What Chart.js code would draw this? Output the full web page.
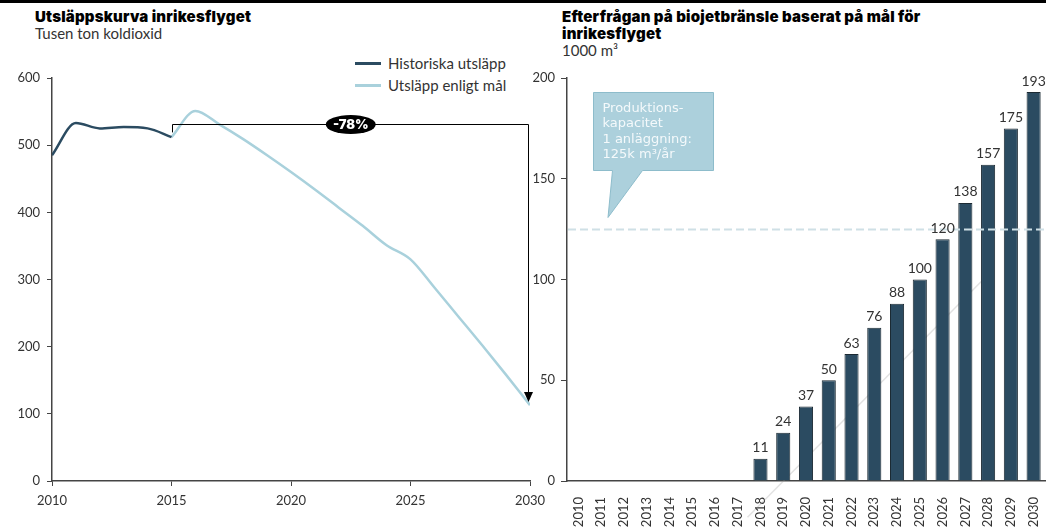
<!DOCTYPE html>
<html>
<head>
<meta charset="utf-8">
<script src="https://cdn.jsdelivr.net/npm/chart.js@4.4.1/dist/chart.umd.min.js"></script>
<style>
  body { margin: 0; background: #fff; width: 1046px; height: 527px; position: relative; overflow: hidden; font-family: Lato, 'Liberation Sans', sans-serif; color: #333; }
  .topbar { position: absolute; left: 0; top: 0; width: 1046px; height: 3px; background: #000; }
  .head { position: absolute; top: 8px; }
  .title { font-family: Inter, 'Liberation Sans', sans-serif; font-weight: 900; font-size: 15px; line-height: 17px; letter-spacing: 0.2px; color: #000; }
  .sub { font-family: Lato, sans-serif; font-size: 15px; line-height: 17px; color: #333; }
  canvas { position: absolute; }
  .legend { position: absolute; left: 355px; top: 52px; font-size: 15px; color: #333; }
  .legend div { height: 22px; display: flex; align-items: center; }
  .legend .sw { display: inline-block; width: 26px; height: 3px; margin-right: 7px; }
</style>
</head>
<body>
<div class="topbar"></div>
<div class="head" style="left:35px">
  <div class="title">Utsläppskurva inrikesflyget</div>
  <div class="sub">Tusen ton koldioxid</div>
</div>
<div class="head" style="left:562px">
  <div class="title">Efterfrågan på biojetbränsle baserat på mål för<br>inrikesflyget</div>
  <div class="sub">1000 m³</div>
</div>
<div class="legend">
  <div><span class="sw" style="background:#2b4b61"></span>Historiska utsläpp</div>
  <div><span class="sw" style="background:#a9d1dc"></span>Utsläpp enligt mål</div>
</div>
<canvas id="emissions" width="565" height="472" style="left:0;top:55px"></canvas>
<canvas id="biofuel" width="536" height="472" style="left:530px;top:55px"></canvas>

<script>
// Emissions from domestic aviation, thousand tonnes CO2
const histYears = [2010, 2011, 2012, 2013, 2014, 2015];
const histValues = [485, 533, 525, 527, 525, 512];
const targetYears = [2015, 2016, 2017, 2018, 2019, 2020, 2021, 2022, 2023, 2024, 2025, 2026, 2027, 2028, 2029, 2030];
const targetValues = [512, 551, 531, 509, 485, 460, 434, 407, 380, 351, 330, 288, 245, 202, 158, 113];
const emissionTicks = { xMin: 2010, xMax: 2030, xStep: 5, yMin: 0, yMax: 600, yStep: 100 };
const reductionLabel = '-78%';
const bracketLevel = 531;
const bracketFoot = 519;

// Biojet fuel demand, 1000 m3
const bioYears = ['2010', '2011', '2012', '2013', '2014', '2015', '2016', '2017', '2018', '2019', '2020',
                  '2021', '2022', '2023', '2024', '2025', '2026', '2027', '2028', '2029', '2030'];
const bioDemand = [null, null, null, null, null, null, null, null, 11, 24, 37, 50, 63, 76, 88, 100, 120, 138, 157, 175, 193];
const bioTicks = { yMin: 0, yMax: 200, yStep: 50 };
const capacity = 125;
const capacityNote = ['Produktions-', 'kapacitet', '1 anläggning:', '125k m³/år'];
// faint guide stroke behind the bars (category index, value)
const faintLineX = [7.43, 17.7];
const faintLineY = [-18, 99];

const DARK = '#2b4b61';
const LIGHT = '#a9d1dc';
const AXIS = '#444';
Chart.defaults.font.family = 'Lato, sans-serif';
Chart.defaults.font.size = 13;
Chart.defaults.color = '#333';

const toPoints = (xs, ys) => xs.map((x, i) => ({ x, y: ys[i] }));

// Bracket and arrow showing the reduction from 2015 to 2030
const reductionPlugin = {
  id: 'reduction',
  afterDatasetsDraw(chart) {
    const { ctx, scales: { x, y } } = chart;
    const x0 = Math.round(x.getPixelForValue(targetYears[0])) + 0.5;
    const x1 = Math.round(x.getPixelForValue(targetYears[targetYears.length - 1])) - 1.5;
    const yTop = Math.round(y.getPixelForValue(bracketLevel)) + 0.5;
    const yFoot = y.getPixelForValue(bracketFoot);
    const yTip = y.getPixelForValue(targetValues[targetValues.length - 1]) - 3;
    ctx.save();
    ctx.strokeStyle = '#000';
    ctx.fillStyle = '#000';
    ctx.lineWidth = 1;
    ctx.beginPath();
    ctx.moveTo(x0, yFoot);
    ctx.lineTo(x0, yTop);
    ctx.lineTo(x1, yTop);
    ctx.lineTo(x1, yTip - 9);
    ctx.stroke();
    ctx.beginPath();
    ctx.moveTo(x1 - 4.5, yTip - 10);
    ctx.lineTo(x1 + 4.5, yTip - 10);
    ctx.lineTo(x1, yTip);
    ctx.closePath();
    ctx.fill();
    const cx = x.getPixelForValue((targetYears[0] + targetYears[targetYears.length - 1]) / 2);
    ctx.beginPath();
    ctx.ellipse(cx, yTop, 25, 9.5, 0, 0, Math.PI * 2);
    ctx.fill();
    ctx.fillStyle = '#fff';
    ctx.font = '900 13px Inter, sans-serif';
    ctx.textAlign = 'center';
    ctx.textBaseline = 'middle';
    ctx.fillText(reductionLabel, cx, yTop + 0.5);
    ctx.restore();
  }
};

new Chart(document.getElementById('emissions'), {
  type: 'line',
  data: {
    datasets: [
      { label: 'Historiska utsläpp', data: toPoints(histYears, histValues), borderColor: DARK, borderWidth: 2.5,
        pointRadius: 0, cubicInterpolationMode: 'monotone', order: 1 },
      { label: 'Utsläpp enligt mål', data: toPoints(targetYears, targetValues), borderColor: LIGHT, borderWidth: 2.5,
        pointRadius: 0, cubicInterpolationMode: 'monotone', order: 2 }
    ]
  },
  options: {
    responsive: false,
    devicePixelRatio: 1,
    animation: false,
    events: [],
    layout: { padding: { top: 23, right: 35, left: 0, bottom: 0 } },
    plugins: { legend: { display: false }, tooltip: { enabled: false } },
    scales: {
      x: {
        type: 'linear', min: emissionTicks.xMin, max: emissionTicks.xMax,
        ticks: { stepSize: emissionTicks.xStep, padding: 7, callback: v => String(v) },
        grid: { drawOnChartArea: false, tickLength: 5, color: AXIS },
        border: { color: AXIS, width: 1.5 },
        afterFit(s) { s.height = 46; }
      },
      y: {
        min: emissionTicks.yMin, max: emissionTicks.yMax,
        ticks: { stepSize: emissionTicks.yStep, padding: 7 },
        grid: { drawOnChartArea: false, tickLength: 5, color: AXIS },
        border: { color: AXIS, width: 1.5 },
        afterFit(s) { s.width = 52; }
      }
    }
  },
  plugins: [reductionPlugin]
});

// Faint diagonal stroke drawn beneath the bars
const faintLinePlugin = {
  id: 'faintLine',
  beforeDatasetsDraw(chart) {
    const { ctx, scales: { x, y } } = chart;
    ctx.save();
    ctx.strokeStyle = 'rgba(150,150,150,0.28)';
    ctx.lineWidth = 1.5;
    ctx.beginPath();
    ctx.moveTo(x.getPixelForValue(faintLineX[0]), y.getPixelForValue(faintLineY[0]));
    ctx.lineTo(x.getPixelForValue(faintLineX[1]), y.getPixelForValue(faintLineY[1]));
    ctx.stroke();
    ctx.restore();
  }
};

// Value labels above the bars
const barLabelPlugin = {
  id: 'barLabels',
  afterDatasetsDraw(chart) {
    const { ctx } = chart;
    const meta = chart.getDatasetMeta(0);
    ctx.save();
    ctx.fillStyle = '#333';
    ctx.font = '14px Lato, sans-serif';
    ctx.textAlign = 'center';
    ctx.textBaseline = 'bottom';
    meta.data.forEach((bar, i) => {
      const v = bioDemand[i];
      if (v == null) return;
      ctx.fillText(String(v), bar.x, bar.y - 4);
    });
    ctx.restore();
  }
};

// Capacity line and its callout
const capacityPlugin = {
  id: 'capacity',
  afterDatasetsDraw(chart) {
    const { ctx, chartArea: a, scales: { y } } = chart;
    const yc = Math.round(y.getPixelForValue(capacity)) + 0.5;
    ctx.save();
    ctx.strokeStyle = '#cfe0e6';
    ctx.lineWidth = 2;
    ctx.setLineDash([8, 4]);
    ctx.beginPath();
    ctx.moveTo(a.left + 1, yc);
    ctx.lineTo(a.right, yc);
    ctx.stroke();
    ctx.setLineDash([]);

    const bx = a.left + 26.5, by = a.top + 14.5, bw = 120, bh = 78;
    const tipX = a.left + 41, tipY = yc - 12;
    ctx.fillStyle = '#acd0dc';
    ctx.strokeStyle = '#8dbccb';
    ctx.lineWidth = 1;
    ctx.beginPath();
    ctx.moveTo(bx, by);
    ctx.lineTo(bx + bw, by);
    ctx.lineTo(bx + bw, by + bh);
    ctx.lineTo(bx + 49, by + bh);
    ctx.lineTo(tipX, tipY);
    ctx.lineTo(bx + 19, by + bh);
    ctx.lineTo(bx, by + bh);
    ctx.closePath();
    ctx.fill();
    ctx.stroke();

    ctx.fillStyle = '#f4f9fb';
    ctx.font = '13px "DejaVu Sans", sans-serif';
    ctx.textAlign = 'left';
    ctx.textBaseline = 'middle';
    capacityNote.forEach((line, i) => ctx.fillText(line, bx + 9, by + 16 + i * 15.5));
    ctx.restore();
  }
};

new Chart(document.getElementById('biofuel'), {
  type: 'bar',
  data: {
    labels: bioYears,
    datasets: [
      { data: bioDemand, backgroundColor: DARK, borderColor: '#1c2a33', borderWidth: 1,
        barPercentage: 0.62, categoryPercentage: 1 }
    ]
  },
  options: {
    responsive: false,
    devicePixelRatio: 1,
    animation: false,
    events: [],
    layout: { padding: { top: 23, right: 21, left: 0, bottom: 0 } },
    plugins: { legend: { display: false }, tooltip: { enabled: false } },
    scales: {
      x: {
        type: 'category', offset: true,
        ticks: { minRotation: 90, maxRotation: 90, padding: 8, autoSkip: false },
        grid: { display: false },
        border: { color: AXIS, width: 1.5 },
        afterFit(s) { s.height = 46; }
      },
      y: {
        min: bioTicks.yMin, max: bioTicks.yMax,
        ticks: { stepSize: bioTicks.yStep, padding: 6 },
        grid: { drawOnChartArea: false, tickLength: 6, color: AXIS },
        border: { color: AXIS, width: 1.5 },
        afterFit(s) { s.width = 37; }
      }
    }
  },
  plugins: [faintLinePlugin, capacityPlugin, barLabelPlugin]
});
</script>
</body>
</html>
